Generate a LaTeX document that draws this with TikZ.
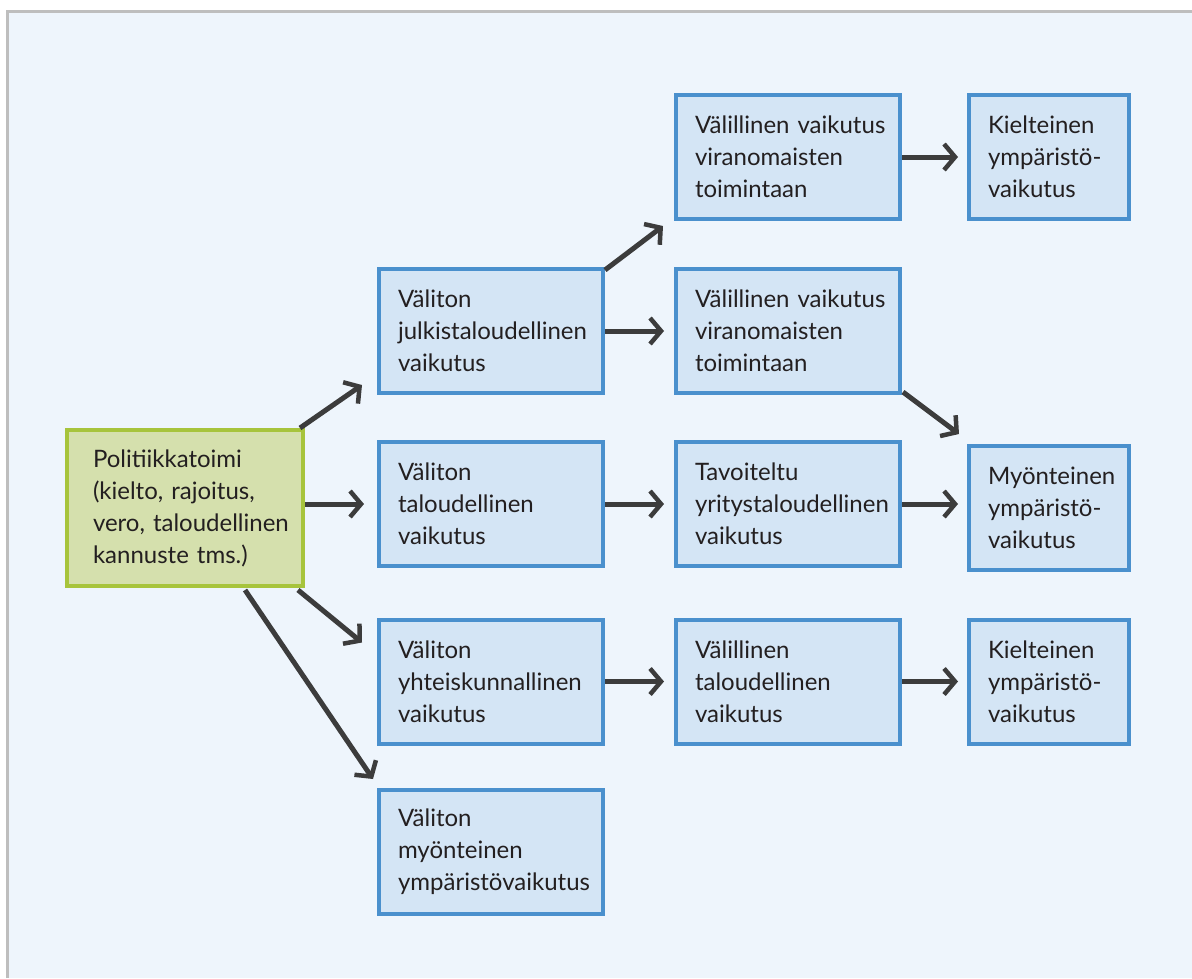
\documentclass[tikz,border=0pt]{standalone}
\usepackage{fontspec}
\setmainfont{Lato}
\usetikzlibrary{arrows.meta,calc}
\hyphenpenalty=10000
\exhyphenpenalty=10000
\hbadness=10000
\hfuzz=100pt
\definecolor{bgc}{HTML}{EEF5FC}
\definecolor{framec}{HTML}{BEBEBE}
\definecolor{boxfill}{HTML}{D4E5F5}
\definecolor{boxline}{HTML}{4A90CD}
\definecolor{gfill}{HTML}{D5E0AD}
\definecolor{gline}{HTML}{A7C43C}
\definecolor{arrc}{HTML}{3C3C3C}
\definecolor{txtc}{HTML}{231F20}
\tikzset{
  bx/.style={draw=boxline, fill=boxfill, line width=4pt, rectangle,
    minimum height=124pt, inner ysep=0pt, align=left, text=txtc,
    font=\fontsize{24}{32}\selectfont},
  bw/.style={bx, minimum width=224pt, text width=186pt, inner xsep=19pt},
  bn/.style={bx, minimum width=160pt, text width=122pt, inner xsep=19pt},
  gbox/.style={bx, draw=gline, fill=gfill, minimum width=236pt, minimum height=156pt,
    text width=184pt, inner xsep=26pt},
  arr/.style={draw=arrc, line width=5pt,
    -{Straight Barb[length=11pt,width=26pt,line width=4.5pt]}}
}
\begin{document}
\begin{tikzpicture}[x=1pt,y=-1pt]
\useasboundingbox (0,0) rectangle (1192,978);
\fill[white] (0,0) rectangle (1192,978);
\fill[bgc] (7,11) rectangle (1192,978);
\draw[framec, line width=3pt] (7,978) -- (7,11) -- (1192,11);

\node[gbox] (g) at (185,508) {Politiikkatoimi\\(kielto, rajoitus,\\vero,~taloudellinen\\kannuste tms.)};

\node[bw] (jul) at (491,331) {Väliton\\julkistaloudellinen\\vaikutus};
\node[bw] (tal) at (491,504) {Väliton\\taloudellinen\\vaikutus};
\node[bw] (yht) at (491,681.5) {Väliton\\yhteiskunnallinen\\vaikutus};
\node[bw] (myo) at (491,852) {Väliton\\myönteinen\\ympäristövaikutus};

\node[bw] (vt) at (788,157) {Välillinen~vaikutus\\viranomaisten\\toimintaan};
\node[bw] (vm) at (788,331) {Välillinen~vaikutus\\viranomaisten\\toimintaan};
\node[bw] (tav) at (788,504) {Tavoiteltu\\yritystaloudellinen\\vaikutus};
\node[bw] (vtal) at (788,681.5) {Välillinen\\taloudellinen\\vaikutus};

\node[bn] (kt) at (1049,157) {Kielteinen\\ympäristö-\\vaikutus};
\node[bn] (pos) at (1049,508) {Myönteinen\\ympäristö-\\vaikutus};
\node[bn] (kb) at (1049,681.5) {Kielteinen\\ympäristö-\\vaikutus};

% connectors
\draw[arr] ($(g.north east)+(-5,0)$) -- ($(jul.south west)+(-15,-10)$);
\draw[arr] (g.east |- tal.west) -- ($(tal.west)+(-13,0)$);
\draw[arr] ($(g.south east)+(-7,2)$) -- ($(yht.north west)+(-15,25)$);
\draw[arr] ($(g.south)+(60,2)$) -- ($(myo.north west)+(-4,-9)$);

\draw[arr] ($(jul.north east)+(0,3)$) -- ($(vt.south west)+(-11,5)$);
\draw[arr] (jul.east) -- ($(vm.west)+(-10,0)$);
\draw[arr] (tal.east) -- ($(tav.west)+(-10,0)$);
\draw[arr] (yht.east) -- ($(vtal.west)+(-10,0)$);

\draw[arr] (vt.east) -- ($(kt.west)+(-9,0)$);
\draw[arr] ($(vm.south east)+(1,-3)$) -- ($(pos.north west)+(-8,-10)$);
\draw[arr] (tav.east) -- ($(tav.east -| pos.west)+(-9,0)$);
\draw[arr] (vtal.east) -- ($(kb.west)+(-9,0)$);
\end{tikzpicture}
\end{document}
